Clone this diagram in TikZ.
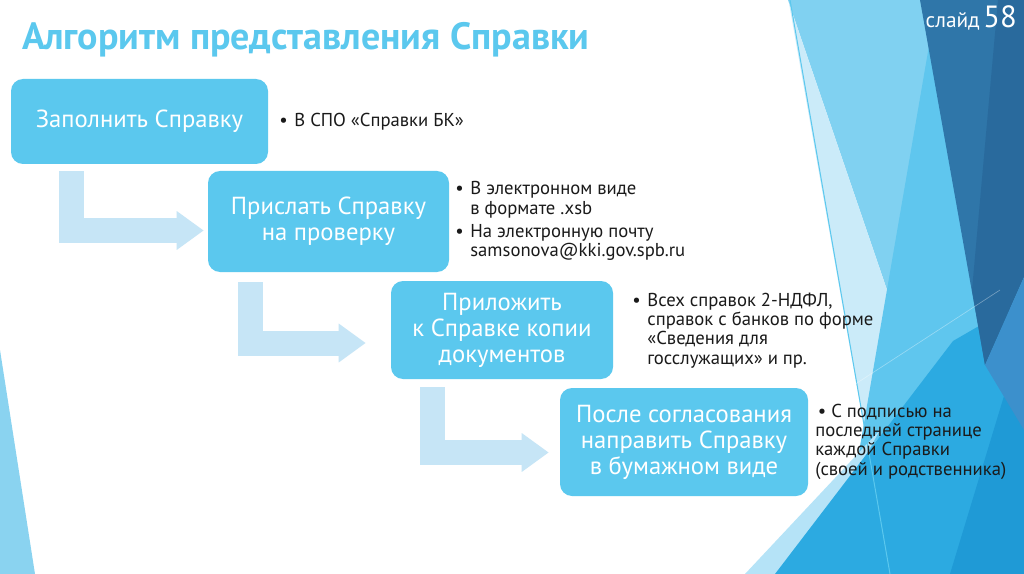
\documentclass[tikz,border=0pt]{standalone}
\usepackage{fontspec}
\setmainfont{PT Sans}
\usetikzlibrary{arrows.meta,calc}
\definecolor{boxc}{HTML}{5BC8EE}
\definecolor{arrowc}{HTML}{C6E5F6}
\definecolor{titlec}{HTML}{5BC8EE}
\definecolor{txtc}{HTML}{1A1A1A}
\definecolor{bgvl}{HTML}{CBEBF9}
\definecolor{bgl}{HTML}{80D1F1}
\definecolor{bgm}{HTML}{5FC6EE}
\definecolor{bgc}{HTML}{2CAAE1}
\definecolor{bgb}{HTML}{1F9AD6}
\definecolor{bgd}{HTML}{2F76A9}
\definecolor{bgdd}{HTML}{296A9D}
\definecolor{bgmd}{HTML}{3C90CC}
\definecolor{leftc}{HTML}{8AD3F0}
\tikzset{
  stepbox/.style={fill=boxc, rounded corners=9pt, text=white, align=center,
    font=\fontsize{18.5}{19.5}\selectfont, inner sep=0pt},
  flowarrow/.style={draw=arrowc, line width=18.75pt, line join=miter,
    -{Triangle[length=20.25pt,width=27.75pt]}},
  bul/.style={text=txtc, inner sep=0pt, font=\fontsize{14}{14.6}\selectfont, align=left}
}
\begin{document}
\begin{tikzpicture}[x=0.75pt,y=-0.75pt]
\useasboundingbox (0,0) rectangle (1024,574);
\fill[white] (0,0) rectangle (1024,574);
% background facets
\fill[leftc] (0,350) -- (35,574) -- (0,574) -- cycle;
\fill[bgl] (788,0) -- (1024,0) -- (1024,574) -- (984,574) -- cycle;
\fill[bgvl] (789,3) -- (984,574) -- (890,574) -- cycle;
\fill[bgm] (930,40) -- (1024,300) -- (1024,574) -- (838,574) -- cycle;
\fill[bgvl!70!bgl] (745,574) -- (880,430) -- (800,574) -- cycle;
\fill[bgc] (775,574) -- (953,341) -- (1024,300) -- (1024,574) -- cycle;
\fill[bgb] (1024,330) -- (1024,574) -- (950,574) -- cycle;
\fill[bgd] (920,0) -- (1024,0) -- (1024,277) -- (985,365) -- cycle;
\fill[bgdd] (998,0) -- (1024,0) -- (1024,277) -- (985,365) -- (972,290) -- cycle;
\fill[bgmd] (985,365) -- (1024,277) -- (1024,430) -- cycle;
\draw[boxc, line width=0.75pt] (790,0) -- (890,574);
\draw[white, opacity=0.35, line width=0.5pt] (700,485) -- (1000,290);
% title
\node[anchor=base west, text=titlec, inner sep=0pt, font=\fontsize{28.5}{32}\selectfont\bfseries] (title) at (22,50) {Алгоритм представления Справки};
\node[anchor=base east, text=white, inner sep=0pt] (slide) at (1017,28) {{\fontsize{16}{18}\selectfont слайд} {\fontsize{23}{25}\selectfont 58}};
% boxes
\node[stepbox, minimum width=192.75pt, minimum height=63.75pt] (b1) at (139.5,121.5) {Заполнить Справку};
\node[stepbox, minimum width=180.75pt, minimum height=75.75pt] (b2) at (328.5,221.5) {Прислать Справку\\на проверку};
\node[stepbox, minimum width=166.5pt, minimum height=73.5pt] (b3) at (502,330) {Приложить\\к Справке копии\\документов};
\node[stepbox, minimum width=186pt, minimum height=81pt] (b4) at (684,442) {После согласования\\направить Справку\\в бумажном виде};
% bent arrows
\draw[flowarrow] ($(b1.south west)+(61,7)$) |- ($(b2.west)+(-4,9)$);
\draw[flowarrow] ($(b2.south west)+(42.5,10)$) |- ($(b3.west)+(-25,13)$);
\draw[flowarrow] ($(b3.south west)+(42,8)$) |- ($(b4.west)+(-11,10.5)$);
% bullet texts
\node[bul, anchor=base west] (t1) at (279,127) {\begin{tabular}[t]{@{}l@{\hspace{5pt}}l@{}}•&В СПО «Справки БК»\end{tabular}};
\node[bul, anchor=base west] (t2) at (455,195) {\begin{tabular}[t]{@{}l@{\hspace{5pt}}l@{}}•&В электронном виде\\&в формате .xsb\\[2.5pt]•&На электронную почту\\&samsonova@kki.gov.spb.ru\end{tabular}};
\node[bul, anchor=base west] (t3) at (632,306) {\begin{tabular}[t]{@{}l@{\hspace{5pt}}l@{}}•&Всех справок 2-НДФЛ,\\&справок с банков по форме\\&«Сведения для\\&госслужащих» и пр.\end{tabular}};
\node[bul, anchor=base west] (t4) at (815,417) {\begin{tabular}[t]{@{}l@{}}\hspace{2pt}• С подписью на\\последней странице\\каждой Справки\\(своей и родственника)\end{tabular}};
\end{tikzpicture}
\end{document}
